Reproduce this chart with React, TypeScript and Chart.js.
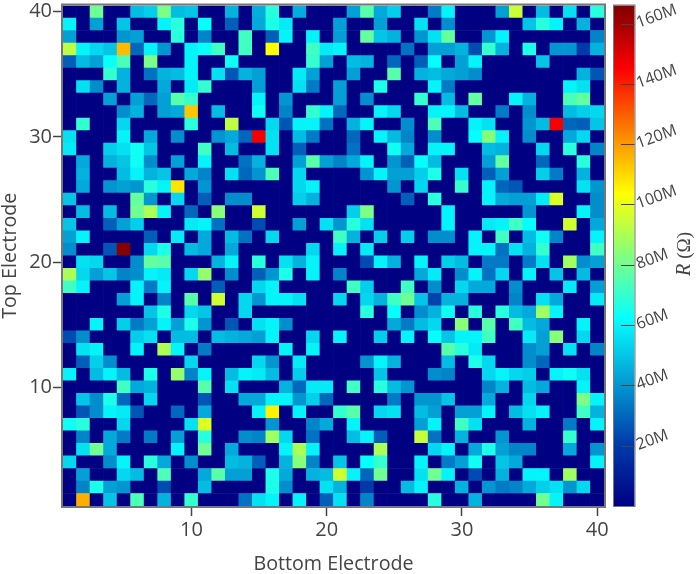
import React, { useEffect, useRef } from "react";
import { Chart, registerables } from "chart.js";

Chart.register(...registerables);

// Values in millions of ohms, left to right (bottom electrode 1..40)
const top40 = [0,0,80,0,0,48,52,82,48,50,0,0,46,0,45,68,0,45,0,0, 0,42,76,44,52,0,0,34,60,0,0,0,42,95,0,48,0,56,0,68];
const top39 = [60,0,42,0,50,0,0,60,68,0,62,0,28,0,44,66,58,0,0,0, 42,0,0,42,0,0,56,0,38,0,0,0,0,0,50,68,60,0,46,0];
const top38 = [42,0,0,0,40,42,0,0,68,0,36,0,0,72,0,28,60,0,60,0, 42,0,78,50,46,0,40,56,78,0,0,40,60,0,0,0,0,0,0,36];
const top37 = [93,60,54,50,115,30,60,40,0,60,63,72,0,72,0,104,0,0,72,58, 60,0,0,0,0,32,0,42,42,46,24,70,46,0,66,0,40,40,20,46];
const top36 = [28,48,42,63,74,0,82,0,0,60,0,0,64,0,0,0,0,0,70,42, 0,48,46,0,30,0,28,62,0,42,60,0,0,0,0,50,0,0,0,0];
const top35 = [0,0,0,70,46,0,32,46,48,60,0,56,26,46,42,0,0,58,42,0, 0,42,0,0,76,0,46,48,44,42,38,0,0,0,0,0,0,0,46,26];
const top34 = [0,56,38,0,46,0,0,44,0,58,70,0,0,0,42,0,0,56,34,0, 42,0,0,66,0,0,0,60,34,0,0,0,0,0,0,0,0,60,56,0];
const top33 = [0,0,0,42,0,42,30,42,76,70,0,0,0,0,60,0,40,0,0,0, 42,0,38,0,0,0,70,0,48,0,78,0,0,60,46,0,0,74,78,0];
const top32 = [0,0,0,0,38,46,0,42,44,113,0,48,0,0,64,0,36,0,70,60, 30,0,0,60,54,0,0,60,60,48,0,0,34,0,38,0,0,48,52,54];
const top31 = [0,70,0,0,54,0,0,0,0,68,0,0,93,0,0,54,26,60,60,32, 0,46,60,0,0,38,0,74,0,0,60,56,0,0,40,48,146,30,28,50];
const top30 = [56,0,0,0,60,0,44,0,38,0,0,40,44,30,146,56,0,48,34,0, 0,30,0,60,48,36,0,38,0,0,62,84,60,0,38,0,0,44,54,0];
const top29 = [58,0,0,52,56,64,50,0,0,0,72,0,48,0,0,56,0,28,0,0, 0,32,0,0,64,44,0,60,60,0,0,48,46,0,0,54,0,68,0,36];
const top28 = [0,44,0,46,50,64,38,0,42,0,60,0,0,32,46,0,0,42,76,42, 36,44,60,0,40,28,62,48,0,0,0,42,78,0,0,30,0,0,68,0];
const top27 = [0,46,0,0,48,60,46,50,0,44,36,0,56,30,40,74,0,54,0,0, 0,0,40,60,42,42,52,66,0,56,0,28,42,0,0,52,34,0,46,0];
const top26 = [0,44,0,40,42,40,68,60,108,0,40,0,0,0,0,0,0,54,60,0, 0,0,0,0,40,0,54,0,0,70,0,60,30,26,0,0,0,0,56,40];
const top25 = [50,0,0,0,0,78,40,0,54,0,28,0,38,38,0,0,0,52,46,0, 0,0,0,0,0,28,0,68,0,0,0,60,44,42,42,58,98,0,0,38];
const top24 = [0,48,0,48,0,80,90,60,0,30,0,84,0,0,96,0,0,0,0,0, 0,52,82,0,0,0,0,0,60,0,0,0,0,0,40,0,0,0,60,38];
const top23 = [50,0,0,28,42,52,0,0,0,58,60,32,0,0,24,0,0,42,0,56, 40,68,56,0,0,0,0,0,60,0,0,58,60,72,62,0,0,96,0,44];
const top22 = [42,60,0,0,0,0,28,0,58,0,44,0,48,32,0,54,0,0,0,0, 72,46,0,52,0,52,0,38,38,0,60,0,72,0,48,64,36,0,0,60];
const top21 = [38,0,0,26,165,0,54,66,0,48,44,0,44,0,0,0,0,0,54,0, 60,0,58,0,0,0,0,0,0,0,60,60,32,56,46,70,0,0,0,72];
const top20 = [0,56,54,0,0,38,78,76,0,0,0,46,60,0,68,0,56,46,60,0, 0,0,24,60,46,0,60,0,52,48,0,34,34,0,34,56,0,88,38,42];
const top19 = [90,54,42,50,36,38,60,58,0,54,86,0,38,0,28,40,66,0,60,0, 36,0,0,0,0,0,44,58,0,38,60,32,54,0,60,0,50,0,48,0];
const top18 = [72,60,0,0,0,60,34,60,0,0,0,28,0,0,54,60,0,0,0,0, 0,72,52,0,0,72,0,38,0,54,44,44,0,38,0,0,0,58,0,42];
const top17 = [0,0,0,0,42,60,0,36,0,76,0,96,0,54,40,60,60,56,0,0, 54,0,54,46,72,80,50,22,46,46,0,0,0,36,0,56,44,0,0,58];
const top16 = [0,0,0,0,0,0,50,66,0,54,50,0,0,54,0,0,0,0,0,0, 0,0,68,0,62,0,38,46,64,0,68,0,68,48,44,88,60,0,0,0];
const top15 = [0,0,60,0,52,34,42,60,42,66,40,0,26,0,56,60,38,0,0,0, 0,0,0,0,44,34,48,54,0,84,0,76,0,72,48,44,0,0,60,0];
const top14 = [24,38,0,0,0,52,56,0,48,48,0,48,46,44,42,60,0,0,54,0, 60,0,0,52,0,60,0,62,50,60,60,72,0,0,58,42,84,0,54,0];
const top13 = [0,56,60,0,0,60,0,90,60,0,34,0,0,0,0,0,60,0,60,0, 0,0,0,0,0,0,0,0,76,68,58,0,0,0,38,42,0,56,0,36];
const top12 = [0,28,52,38,0,0,0,0,0,54,0,0,0,0,54,40,0,58,0,0, 0,0,40,60,46,0,0,0,48,0,66,54,0,0,38,30,0,0,0,0];
const top11 = [60,0,48,60,48,0,66,0,86,36,60,0,48,60,58,48,0,52,0,0, 0,0,0,50,0,0,0,38,36,0,0,54,60,54,52,0,60,64,56,0];
const top10 = [0,0,0,0,72,44,46,0,0,0,76,0,56,0,0,0,46,30,58,58, 0,72,0,68,48,40,0,0,0,0,0,36,46,0,48,44,0,0,60,0];
const top9 = [0,50,38,66,30,0,54,0,0,0,26,0,0,44,44,60,60,40,52,30, 0,0,0,0,34,0,40,40,50,0,0,44,0,0,54,0,0,0,82,60];
const top8 = [0,26,38,60,58,26,0,0,30,0,44,0,0,0,60,106,0,60,0,0, 70,76,0,54,56,0,48,42,0,42,42,60,0,48,56,60,0,0,72,46];
const top7 = [64,68,0,0,54,0,0,0,0,56,98,0,0,0,0,40,0,0,36,44, 0,60,0,0,0,0,42,60,0,72,56,0,0,0,46,0,0,34,0,60];
const top6 = [0,36,0,44,34,0,34,0,42,0,68,0,0,38,36,88,54,0,32,0, 0,48,60,28,0,0,94,32,0,46,0,0,40,0,0,0,0,70,0,0];
const top5 = [0,56,80,44,0,0,0,0,60,0,80,0,44,0,0,0,60,90,60,0, 0,0,0,90,0,0,0,54,60,0,44,66,42,36,36,0,0,44,0,40];
const top4 = [54,0,0,38,60,0,68,44,0,38,0,0,48,46,28,0,46,84,36,0, 50,0,62,70,0,0,60,0,34,42,64,0,50,44,0,0,0,0,0,60];
const top3 = [0,42,0,0,54,48,0,74,0,0,44,76,42,42,0,66,44,0,46,48, 96,60,30,80,0,0,56,80,60,0,24,0,46,0,60,60,0,88,0,0];
const top2 = [0,36,66,42,40,0,0,24,0,0,48,0,0,0,0,66,38,0,0,56, 46,0,20,0,0,48,60,0,0,46,0,40,34,36,44,52,56,40,54,0];
const top1 = [0,117,0,50,0,74,0,46,0,70,0,0,0,32,56,60,0,60,0,28, 56,0,36,0,0,0,0,68,0,0,46,0,0,0,0,80,60,0,0,0];

const rows = [top1,top2,top3,top4,top5,top6,top7,top8,top9,top10,top11,top12,top13,top14,top15,top16,top17,top18,top19,top20,
  top21,top22,top23,top24,top25,top26,top27,top28,top29,top30,top31,top32,top33,top34,top35,top36,top37,top38,top39,top40];

const axisTicks = [10, 20, 30, 40];
const colorTicks = [20, 40, 60, 80, 100, 120, 140, 160];
const colorMax = 166;
const xTitle = "Bottom Electrode";
const yTitle = "Top Electrode";

const jetStops: [number, number[]][] = [
  [0, [0, 0, 131]],
  [0.125, [0, 60, 170]],
  [0.375, [5, 255, 255]],
  [0.625, [255, 255, 0]],
  [0.875, [250, 0, 0]],
  [1, [128, 0, 0]],
];

function jet(v: number) {
  const t = Math.min(1, Math.max(0, v / colorMax));
  for (let i = 1; i < jetStops.length; i++) {
    const [t1, c1] = jetStops[i];
    const [t0, c0] = jetStops[i - 1];
    if (t <= t1) {
      const f = (t - t0) / (t1 - t0);
      const c = c0.map((a, k) => Math.round(a + (c1[k] - a) * f));
      return `rgb(${c[0]},${c[1]},${c[2]})`;
    }
  }
  return "rgb(128,0,0)";
}

const FONT = "'Open Sans', sans-serif";
const INK = "#444";
const FRAME = "#777";

const noPadding = (s: any) => {
  s.paddingTop = 0;
  s.paddingBottom = 0;
  s.paddingLeft = 0;
  s.paddingRight = 0;
};

const decorations = {
  id: "decorations",
  afterDraw(chart: any) {
    const { ctx, chartArea: a, scales } = chart;
    const cb = scales.c;
    ctx.save();
    // plot frame
    ctx.strokeStyle = FRAME;
    ctx.lineWidth = 2;
    ctx.strokeRect(a.left - 1, a.top - 1, a.right - a.left + 2, a.bottom - a.top + 2);
    // colour bar
    const bx0 = 614;
    const bx1 = 634.5;
    const g = ctx.createLinearGradient(0, cb.getPixelForValue(0), 0, cb.getPixelForValue(colorMax));
    jetStops.forEach(([t]) => g.addColorStop(t, jet(t * colorMax)));
    ctx.fillStyle = g;
    ctx.fillRect(bx0, a.top, bx1 - bx0, a.bottom - a.top);
    ctx.strokeStyle = FRAME;
    ctx.lineWidth = 1;
    ctx.strokeRect(bx0 - 0.5, a.top - 0.5, bx1 - bx0 + 1, a.bottom - a.top + 1);
    ctx.strokeStyle = INK;
    ctx.lineWidth = 1;
    colorTicks.forEach((v) => {
      const y = Math.round(cb.getPixelForValue(v)) + 0.5;
      ctx.beginPath();
      ctx.moveTo(621, y);
      ctx.lineTo(634.5, y);
      ctx.stroke();
    });
    // colour bar title
    ctx.translate(690, 276);
    ctx.rotate(-Math.PI / 2);
    ctx.fillStyle = INK;
    ctx.textBaseline = "alphabetic";
    ctx.textAlign = "left";
    ctx.font = "italic 20px 'Liberation Serif', serif";
    ctx.fillText("R", 0, 0);
    const w = ctx.measureText("R ").width;
    ctx.font = "19px 'Liberation Serif', serif";
    ctx.fillText("(Ω)", w, 0);
    ctx.restore();
  },
};

export default function App() {
  const ref = useRef<HTMLCanvasElement>(null);
  useEffect(() => {
    const datasets = rows.map((vals, r) => ({
      data: vals.map((_, c) => ({ x: c + 1, y: [r + 0.5, r + 1.5] })),
      backgroundColor: vals.map((v) => jet(v)),
      borderWidth: 0,
      grouped: false,
      barPercentage: 1,
      categoryPercentage: 1,
    }));
    const chart = new Chart(ref.current as HTMLCanvasElement, {
      type: "bar",
      data: { datasets },
      plugins: [decorations],
      options: {
        animation: false,
        responsive: false,
        layout: { padding: { top: 5.5 } },
        plugins: { legend: { display: false }, tooltip: { enabled: false } },
        scales: {
          x: {
            type: "linear",
            offset: false,
            min: 0.5,
            max: 40.5,
            afterBuildTicks: (s: any) => { s.ticks = axisTicks.map((value) => ({ value })); },
            afterFit: (s: any) => { s.height = 68; noPadding(s); },
            grid: { offset: false, drawOnChartArea: false, tickLength: 10, tickColor: INK, tickWidth: 1.5 },
            border: { display: false },
            ticks: {
              color: INK,
              font: { family: FONT, size: 20 },
              padding: 2.5,
              maxRotation: 0,
              callback: (v: any) => String(v),
            },
            title: {
              display: true,
              text: xTitle,
              color: INK,
              font: { family: FONT, size: 19.7 },
              padding: { top: 4, bottom: -2 },
            },
          },
          y: {
            type: "linear",
            position: "left",
            min: 0.5,
            max: 40.5,
            afterBuildTicks: (s: any) => { s.ticks = axisTicks.map((value) => ({ value })); },
            afterFit: (s: any) => { s.width = 63; noPadding(s); },
            grid: { drawOnChartArea: false, tickLength: 10, tickColor: INK, tickWidth: 1.5 },
            border: { display: false },
            ticks: {
              color: INK,
              font: { family: FONT, size: 20 },
              padding: 1,
              callback: (v: any) => String(v),
            },
            title: {
              display: true,
              text: yTitle,
              color: INK,
              font: { family: FONT, size: 19.7 },
              padding: { top: -1, bottom: 0 },
            },
          },
          c: {
            type: "linear",
            position: "right",
            min: 0,
            max: colorMax,
            afterBuildTicks: (s: any) => { s.ticks = colorTicks.map((value) => ({ value })); },
            afterFit: (s: any) => { s.width = 93; noPadding(s); },
            grid: { display: false, drawTicks: false },
            border: { display: false },
            ticks: {
              color: INK,
              font: { family: FONT, size: 16 },
              padding: 33,
              minRotation: 20,
              maxRotation: 20,
              callback: (v: any) => `${v}M`,
            },
          },
        },
      } as any,
    } as any);
    return () => chart.destroy();
  }, []);
  return (
    <div style={{ position: "absolute", left: 0, top: 0, width: 697, height: 574, background: "#fff" }}>
      <canvas ref={ref} width={697} height={574} style={{ display: "block" }} />
    </div>
  );
}
